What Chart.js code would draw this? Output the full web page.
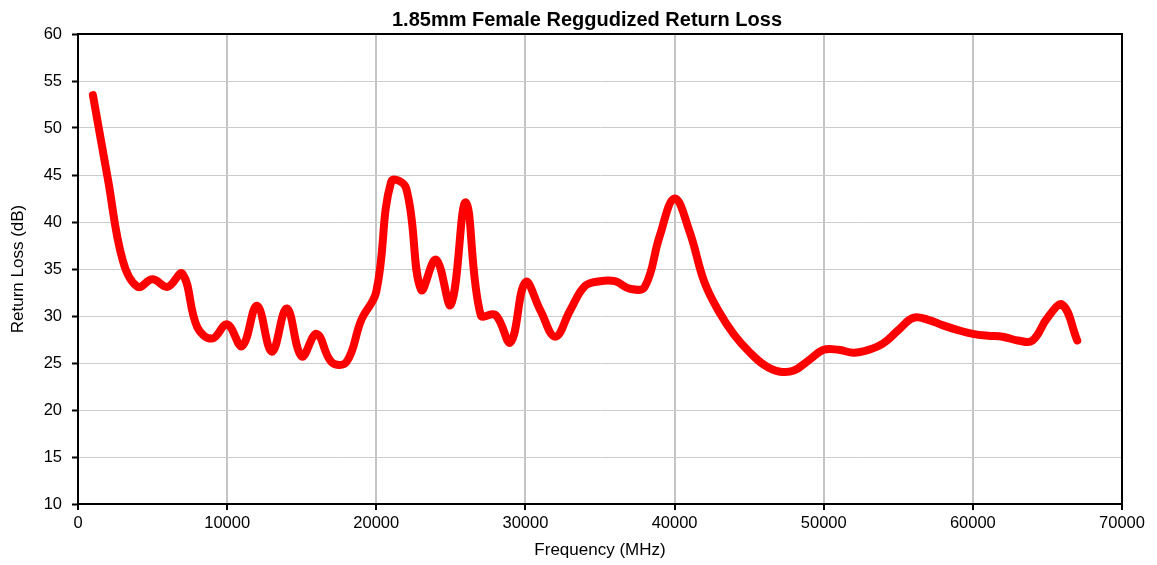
<!DOCTYPE html>
<html>
<head>
<meta charset="utf-8">
<script src="https://cdn.jsdelivr.net/npm/chart.js@4.4.0/dist/chart.umd.min.js"></script>
<style>
  html, body { margin: 0; padding: 0; background: #fff; }
  #wrap { width: 1157px; height: 565px; }
</style>
</head>
<body>
<div id="wrap"><canvas id="rl"></canvas></div>
<script>
// Frequency points (MHz) and return loss (dB)
const freqs = [
  1000, 2000, 3000, 4000, 5000, 6000, 7000, 8000, 9000, 10000,
  11000, 12000, 13000, 14000, 15000, 16000, 17000, 18000, 19000, 20000,
  21000, 22000, 23000, 24000, 25000, 26000, 27000, 28000, 29000, 30000,
  31000, 32000, 33000, 34000, 35000, 36000, 37000, 38000, 39000, 40000,
  41000, 42000, 43000, 44000, 45000, 46000, 47000, 48000, 49000, 50000,
  51000, 52000, 53000, 54000, 55000, 56000, 57000, 58000, 59000, 60000,
  61000, 62000, 63000, 64000, 65000, 66000, 67000
];
const returnLoss = [
  53.5, 44.6, 35.9, 33.1, 33.9, 33.1, 34.5, 28.8, 27.6, 29.1,
  26.8, 31.1, 26.2, 30.8, 25.7, 28.1, 25.1, 25.1, 29.6, 32.6,
  44.3, 43.6, 32.8, 36.0, 31.2, 42.1, 30.1, 30.1, 27.2, 33.6,
  30.6, 27.8, 30.6, 33.2, 33.7, 33.7, 32.9, 33.1, 38.5, 42.5,
  39.0, 33.6, 30.4, 28.0, 26.2, 24.8, 24.1, 24.2, 25.3, 26.4,
  26.4, 26.1, 26.4, 27.1, 28.5, 29.8, 29.6, 29.0, 28.5, 28.1,
  27.9, 27.8, 27.4, 27.4, 29.8, 31.2, 27.4
];
const xTicks = [0, 10000, 20000, 30000, 40000, 50000, 60000, 70000];
const yTicks = [10, 15, 20, 25, 30, 35, 40, 45, 50, 55, 60];
const chartTitle = '1.85mm Female Reggudized Return Loss';

const FONT = 'Liberation Sans, Arial, sans-serif';

// title text + black frame around the plot area
const frame = {
  id: 'frame',
  afterDraw(chart) {
    const { ctx, chartArea: a } = chart;
    ctx.save();
    ctx.strokeStyle = '#000';
    ctx.lineWidth = 2;
    ctx.strokeRect(a.left, a.top, a.right - a.left, a.bottom - a.top);
    ctx.fillStyle = '#000';
    ctx.font = 'bold 20px ' + FONT;
    ctx.textAlign = 'center';
    ctx.textBaseline = 'middle';
    ctx.fillText(chartTitle, 587, 20);
    ctx.restore();
  }
};

new Chart(document.getElementById('rl'), {
  type: 'line',
  data: {
    datasets: [{
      label: 'Return Loss',
      data: freqs.map((f, i) => ({ x: f, y: returnLoss[i] })),
      borderColor: '#ff0000',
      borderWidth: 8,
      pointRadius: 0,
      tension: 0.4,
      borderCapStyle: 'round',
      borderJoinStyle: 'round',
      fill: false
    }]
  },
  options: {
    responsive: true,
    maintainAspectRatio: false,
    animation: false,
    layout: { padding: { left: 0, right: 35, top: 34, bottom: 0 } },
    plugins: {
      legend: { display: false },
      tooltip: { enabled: false },
      title: { display: false }
    },
    scales: {
      x: {
        type: 'linear',
        min: 0,
        max: 70000,
        afterBuildTicks: s => { s.ticks = xTicks.map(v => ({ value: v })); },
        afterFit: s => { s.height = 61; },
        ticks: {
          color: '#000', font: { family: FONT, size: 16.5 }, padding: 4, maxRotation: 0,
          callback: v => String(v)
        },
        grid: { color: '#c4c4c4', lineWidth: 2, tickColor: '#000', tickLength: 6, tickWidth: 2 },
        border: { color: '#000', width: 2 },
        title: {
          display: true,
          text: 'Frequency (MHz)',
          color: '#000',
          font: { family: FONT, size: 17 },
          padding: { top: 0, bottom: 4 }
        }
      },
      y: {
        min: 10,
        max: 60,
        afterBuildTicks: s => { s.ticks = yTicks.map(v => ({ value: v })); },
        afterFit: s => { s.width = 78; },
        ticks: {
          color: '#000', font: { family: FONT, size: 16.5 }, padding: 10,
          callback: v => String(v)
        },
        grid: { color: '#cccccc', lineWidth: 1, tickColor: '#000', tickLength: 6, tickWidth: 2 },
        border: { color: '#000', width: 2 },
        title: {
          display: true,
          text: 'Return Loss (dB)',
          color: '#000',
          font: { family: FONT, size: 17 },
          padding: { top: 8, bottom: 0 }
        }
      }
    }
  },
  plugins: [frame]
});
</script>
</body>
</html>
